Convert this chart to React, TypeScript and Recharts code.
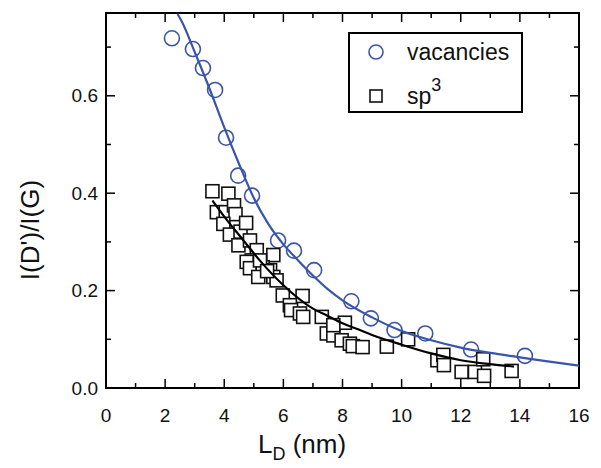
import { ComposedChart, Line, Scatter, XAxis, YAxis, ReferenceArea } from "recharts";

const vacancyX = [2.23, 2.94, 3.28, 3.69, 4.06, 4.47, 4.94, 5.82, 6.36, 7.04, 8.3, 8.96, 9.76, 10.8, 12.35, 14.17];
const vacancyY = [0.718, 0.696, 0.657, 0.612, 0.514, 0.436, 0.395, 0.303, 0.282, 0.242, 0.178, 0.143, 0.119, 0.112, 0.079, 0.066];

const sp3X = [
  3.6, 4.14, 3.75, 4.05, 4.33, 4.38, 3.97, 4.19, 4.55, 4.74, 4.48, 4.87, 5.1, 5.66, 4.93, 4.76,
  4.87, 5.3, 5.15, 5.55, 5.66, 5.77, 5.21, 5.45, 5.98, 6.65, 6.22, 6.26, 6.56, 6.67, 7.3, 7.47,
  7.69, 8.08, 7.69, 7.97, 8.25, 8.35, 8.68, 9.5, 10.22, 11.21, 11.41, 11.43, 12.03, 12.48, 12.76,
  12.79, 13.72,
];
const sp3Y = [
  0.404, 0.399, 0.361, 0.361, 0.375, 0.357, 0.337, 0.315, 0.321, 0.339, 0.293, 0.303, 0.283, 0.273,
  0.262, 0.259, 0.246, 0.248, 0.228, 0.242, 0.228, 0.221, 0.262, 0.24, 0.19, 0.189, 0.17, 0.16, 0.153,
  0.146, 0.146, 0.112, 0.108, 0.134, 0.129, 0.098, 0.091, 0.086, 0.084, 0.085, 0.1, 0.057, 0.068,
  0.047, 0.033, 0.033, 0.059, 0.025, 0.035,
];

// fitted curves
const vacFitX = [2.42, 2.56, 3.0, 3.5, 4.0, 4.5, 5.0, 5.5, 6.0, 6.5, 7.0, 7.5, 8.0, 9.0, 10.0, 11.0, 12.0, 13.0, 14.0, 15.0, 16.0];
const vacFitY = [0.768, 0.753, 0.69, 0.615, 0.535, 0.46, 0.39, 0.336, 0.295, 0.262, 0.231, 0.203, 0.18, 0.145, 0.117, 0.098, 0.083, 0.072, 0.063, 0.054, 0.046];

const sp3FitX = [3.6, 4.0, 4.65, 5.2, 6.0, 7.0, 7.5, 8.0, 8.5, 9.0, 10.0, 11.0, 12.0, 13.0, 13.8];
const sp3FitY = [0.385, 0.352, 0.303, 0.262, 0.211, 0.163, 0.148, 0.133, 0.121, 0.109, 0.089, 0.071, 0.057, 0.049, 0.044];

const xTicks = [0, 1, 2, 3, 4, 5, 6, 7, 8, 9, 10, 11, 12, 13, 14, 15, 16];
const yTicks = [0, 0.1, 0.2, 0.3, 0.4, 0.5, 0.6, 0.7];

const zip = (xs: number[], ys: number[]) => xs.map((x, i) => ({ x, y: ys[i] }));
const vacancies = zip(vacancyX, vacancyY);
const sp3 = zip(sp3X, sp3Y);
const vacFit = zip(vacFitX, vacFitY);
const sp3Fit = zip(sp3FitX, sp3FitY);

const W = 593;
const H = 460;
// axes take 1px each, so plot area is left 98 .. right 571, top 5 .. bottom 380
const M = { top: 5, right: 22, bottom: 79, left: 97 };
const TOP = 5;
const BOTTOM = 380;
const LEFT = 98;
const RIGHT = 571;
const BLUE = "#3a55a8";
const FONT = "'Liberation Sans', Arial, Helvetica, sans-serif";

const XTick = (props: any) => {
  const x = props.payload?.coordinate ?? props.x;
  const v = props.payload.value;
  const major = v % 2 === 0;
  const len = major ? 9 : 5;
  return (
    <g>
      <line x1={x} x2={x} y1={BOTTOM} y2={BOTTOM - len} stroke="#000" strokeWidth={1.5} />
      <line x1={x} x2={x} y1={TOP} y2={TOP + len} stroke="#000" strokeWidth={1.5} />
      {major && (
        <text x={x} y={BOTTOM + 27} textAnchor="middle" dominantBaseline="central" fontSize={19} fill="#111" fontFamily={FONT}>
          {v}
        </text>
      )}
    </g>
  );
};

const YTick = (props: any) => {
  const y = props.payload?.coordinate ?? props.y;
  const v = props.payload.value;
  const major = Math.round(v * 10) % 2 === 0;
  const len = major ? 9 : 5;
  return (
    <g>
      <line x1={LEFT} x2={LEFT + len} y1={y} y2={y} stroke="#000" strokeWidth={1.5} />
      <line x1={RIGHT} x2={RIGHT - len} y1={y} y2={y} stroke="#000" strokeWidth={1.5} />
      {major && (
        <text x={LEFT - 8} y={y} textAnchor="end" dominantBaseline="central" fontSize={19} fill="#111" fontFamily={FONT}>
          {v.toFixed(1)}
        </text>
      )}
    </g>
  );
};

const Circle = (props: any) => (
  <circle cx={props.cx} cy={props.cy} r={7.5} fill="none" stroke={BLUE} strokeWidth={1.6} />
);

const Square = (props: any) => (
  <rect x={props.cx - 6.5} y={props.cy - 6.5} width={13} height={13} fill="#fff" stroke="#111" strokeWidth={1.6} />
);

export default function App() {
  return (
    <div style={{ position: "relative", width: W, height: H, fontFamily: FONT }}>
      <ComposedChart width={W} height={H} margin={M}>
        <XAxis
          dataKey="x"
          type="number"
          domain={[0, 16]}
          ticks={xTicks}
          interval={0}
          allowDataOverflow
          height={1}
          tickLine={false}
          axisLine={false}
          tick={(p: any) => <XTick {...p} />}
        />
        <YAxis
          dataKey="y"
          type="number"
          domain={[0, 0.77]}
          ticks={yTicks}
          interval={0}
          allowDataOverflow
          width={1}
          tickLine={false}
          axisLine={false}
          tick={(p: any) => <YTick {...p} />}
        />
        <ReferenceArea x1={0} x2={16} y1={0} y2={0.77} fill="none" stroke="#000" strokeWidth={2} fillOpacity={0} />
        <Scatter data={vacancies} dataKey="y" shape={<Circle />} isAnimationActive={false} />
        <Scatter data={sp3} dataKey="y" shape={<Square />} isAnimationActive={false} />
        <Line data={vacFit} dataKey="y" type="monotone" stroke={BLUE} strokeWidth={2.2} dot={false} activeDot={false} isAnimationActive={false} zIndex={900} />
        <Line data={sp3Fit} dataKey="y" type="monotone" stroke="#000" strokeWidth={2.2} dot={false} activeDot={false} isAnimationActive={false} zIndex={900} />
      </ComposedChart>

      <svg width={W} height={H} style={{ position: "absolute", left: 0, top: 0, pointerEvents: "none" }}>
        <text x={22} y={222} transform="rotate(-90 22 222)" textAnchor="middle" dominantBaseline="central" fontSize={26} fill="#111" fontFamily={FONT}>
          I(D')/I(G)
        </text>
        <text x={250} y={445} fontSize={26} fill="#111" fontFamily={FONT}>
          L<tspan fontSize={18} dy={7}>D</tspan>
          <tspan dy={-7}> (nm)</tspan>
        </text>
      </svg>

      <div
        style={{
          position: "absolute",
          left: 340,
          top: 24,
          width: 171,
          height: 77,
          border: "2px solid #000",
          background: "#fff",
          fontSize: 23,
          color: "#111",
        }}
      >
        <svg width={171} height={77} style={{ position: "absolute", left: 0, top: 0 }}>
          <circle cx={26} cy={18} r={7} fill="none" stroke={BLUE} strokeWidth={1.6} />
          <rect x={20} y={56} width={12} height={12} fill="#fff" stroke="#111" strokeWidth={1.6} />
          <text x={57} y={26} fontSize={23} fill="#111" fontFamily={FONT}>vacancies</text>
          <text x={57} y={70} fontSize={23} fill="#111" fontFamily={FONT}>
            sp<tspan fontSize={18} dy={-13}>3</tspan>
          </text>
        </svg>
      </div>
    </div>
  );
}
